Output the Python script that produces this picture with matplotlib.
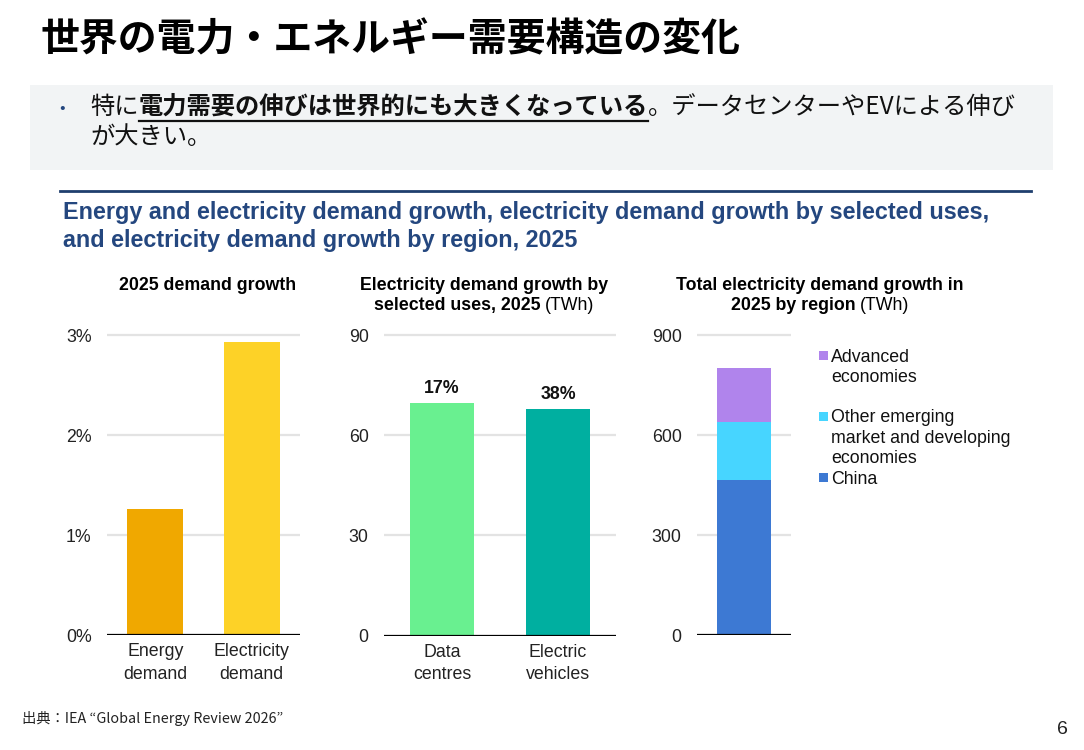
import matplotlib
matplotlib.use("Agg")
import matplotlib.pyplot as plt
from matplotlib.patches import Rectangle
from matplotlib.lines import Line2D

# ---- data ----
p1_categories = ["Energy\ndemand", "Electricity\ndemand"]
p1_values = [1.26, 2.93]          # % growth
p1_colors = ["#F0A800", "#FDD227"]
p1_ticks = [0, 1, 2, 3]
p1_ticklabels = ["0%", "1%", "2%", "3%"]

p2_categories = ["Data\ncentres", "Electric\nvehicles"]
p2_values = [69.5, 67.7]          # TWh
p2_labels = ["17%", "38%"]
p2_colors = ["#69F090", "#00AFA0"]
p2_ticks = [0, 30, 60, 90]

p3_series = ["China", "Other emerging\nmarket and developing\neconomies", "Advanced\neconomies"]
p3_values = [465, 174, 162]       # TWh
p3_colors = ["#3D79D3", "#47D5FF", "#B084EC"]
p3_ticks = [0, 300, 600, 900]

W, H = 1084, 750
fig = plt.figure(figsize=(W / 100, H / 100), dpi=100)
fig.patch.set_facecolor("white")

SANS = ["Liberation Sans", "DejaVu Sans"]
JP = ["Noto Sans CJK JP", "DejaVu Sans"]
NAVY = "#24477F"
FS = 12.8


def fx(px):
    return px / W


def fy(py):
    return 1 - py / H


fig.canvas.draw()
renderer = fig.canvas.get_renderer()


def width_of(t):
    bb = t.get_window_extent(renderer=renderer).transformed(fig.transFigure.inverted())
    return bb


# ---- header ----
fig.text(fx(40), fy(40), "世界の電力・エネルギー需要構造の変化", family=JP,
         fontsize=28, fontweight="bold", color="black", va="center", ha="left")

# gray box
fig.add_artist(Rectangle((fx(30), fy(170)), fx(1053) - fx(30), fy(85) - fy(170),
                         transform=fig.transFigure, facecolor="#F2F4F5",
                         edgecolor="none", zorder=0))
fig.text(fx(62), fy(108), "•", family=JP, fontsize=12, color=NAVY,
         va="center", ha="center")

pieces = [("特に", "normal", False), ("電力需要の伸びは世界的にも大きくなっている", "bold", True),
          ("。データセンターやEVによる伸び", "normal", False)]
xcur = fx(90)
BODY = 17.5
for txt, wt, ul in pieces:
    t = fig.text(xcur, fy(107), txt, family=JP, fontsize=BODY, fontweight=wt,
                 color="#111111", va="center", ha="left")
    bb = width_of(t)
    if ul:
        fig.add_artist(Line2D([bb.x0, bb.x1], [fy(121), fy(121)], transform=fig.transFigure,
                              color="#111111", lw=1.6))
    xcur = bb.x1
fig.text(fx(90), fy(137), "が大きい。", family=JP, fontsize=BODY, color="#111111",
         va="center", ha="left")

# navy rule
fig.add_artist(Line2D([fx(60), fx(1031)], [fy(191), fy(191)], transform=fig.transFigure,
                      color="#1F3F6E", lw=2))

# chart title
fig.text(fx(63), fy(213), "Energy and electricity demand growth, electricity demand growth by selected uses,",
         family=SANS, fontsize=16.8, fontweight="bold", color=NAVY, va="center", ha="left")
fig.text(fx(63), fy(240), "and electricity demand growth by region, 2025",
         family=SANS, fontsize=16.8, fontweight="bold", color=NAVY, va="center", ha="left")


def mixed_centered(cx, py, bold_part, normal_part):
    tb = fig.text(0, fy(py), bold_part, family=SANS, fontsize=FS, fontweight="bold",
                  color="black", va="center", ha="left")
    tn = fig.text(0, fy(py), normal_part, family=SANS, fontsize=FS,
                  color="black", va="center", ha="left")
    wb = width_of(tb).width
    wn = width_of(tn).width
    x0 = fx(cx) - (wb + wn) / 2
    tb.set_x(x0)
    tn.set_x(x0 + wb)


# panel titles
fig.text(fx(208), fy(285), "2025 demand growth", family=SANS, fontsize=FS,
         fontweight="bold", color="black", va="center", ha="center")
fig.text(fx(484), fy(286), "Electricity demand growth by", family=SANS, fontsize=FS,
         fontweight="bold", color="black", va="center", ha="center")
mixed_centered(484, 306, "selected uses, 2025 ", "(TWh)")
fig.text(fx(820), fy(286), "Total electricity demand growth in", family=SANS, fontsize=FS,
         fontweight="bold", color="black", va="center", ha="center")
mixed_centered(820, 306, "2025 by region ", "(TWh)")


def make_axes(left, right, ytop_grid, ybot, top_val, extra=1.03):
    hpx = (ybot - ytop_grid) * extra
    ax = fig.add_axes([fx(left), fy(ybot), fx(right) - fx(left), hpx / H])
    ax.set_ylim(0, top_val * extra)
    for s in ax.spines.values():
        s.set_visible(False)
    ax.tick_params(length=0, labelsize=FS, colors="#222222", pad=11)
    ax.yaxis.grid(True, color="#E3E3E3", lw=1.6)
    ax.set_axisbelow(True)
    ax.axhline(0, color="black", lw=1.6, zorder=5)
    return ax


# panel 1
ax1 = make_axes(107, 300, 335, 635, 3)
x1 = list(range(len(p1_categories)))
ax1.bar(x1, p1_values, width=0.58, color=p1_colors, zorder=3)
ax1.set_xlim(-0.5, len(x1) - 0.5)
ax1.set_yticks(p1_ticks)
ax1.set_yticklabels(p1_ticklabels, family=SANS, fontsize=FS)
ax1.set_xticks(x1)
ax1.set_xticklabels(p1_categories, family=SANS, fontsize=FS, linespacing=1.42)
ax1.tick_params(axis="x", pad=6)

# panel 2
ax2 = make_axes(384, 616, 335, 635.5, 90)
x2 = list(range(len(p2_categories)))
ax2.bar(x2, p2_values, width=0.56, color=p2_colors, zorder=3)
ax2.set_xlim(-0.5, len(x2) - 0.5)
ax2.set_yticks(p2_ticks)
ax2.set_yticklabels([str(v) for v in p2_ticks], family=SANS, fontsize=FS)
ax2.set_xticks(x2)
ax2.set_xticklabels(p2_categories, family=SANS, fontsize=FS, linespacing=1.42)
ax2.tick_params(axis="x", pad=6)
for xi, v, lab in zip(x2, p2_values, p2_labels):
    ax2.annotate(lab, (xi, v), xytext=(0, 11), textcoords="offset points",
                 ha="center", va="center", family=SANS, fontsize=FS,
                 fontweight="bold", color="#111111")

# panel 3
ax3 = make_axes(697, 791, 335.5, 635, 900)
bottom = 0
for v, c in zip(p3_values, p3_colors):
    ax3.bar([0], [v], bottom=bottom, width=0.565, color=c, zorder=3)
    bottom += v
ax3.set_xlim(-0.5, 0.5)
ax3.set_yticks(p3_ticks)
ax3.set_yticklabels([str(v) for v in p3_ticks], family=SANS, fontsize=FS)
ax3.set_xticks([])

# legend (top to bottom: reversed stacking order)
leg_y = [355, 416, 477]
LINE_STEP = 20.5
for (name, col), yy in zip(list(zip(p3_series, p3_colors))[::-1], leg_y):
    fig.add_artist(Rectangle((fx(819), fy(yy + 4.5)), fx(9), 9 / H,
                             transform=fig.transFigure, facecolor=col, edgecolor="none"))
    for i, line in enumerate(name.split("\n")):
        fig.text(fx(831), fy(yy + i * LINE_STEP), line, family=SANS, fontsize=FS,
                 color="#111111", va="center_baseline", ha="left")

# footer
fig.text(fx(22), fy(718), "出典：IEA “Global Energy Review 2026”", family=JP,
         fontsize=10.3, color="#222222", va="center", ha="left")
fig.text(fx(1068), fy(729), "6", family=SANS, fontsize=14, color="#222222",
         va="center", ha="right")

fig.savefig("out.png", dpi=100)
